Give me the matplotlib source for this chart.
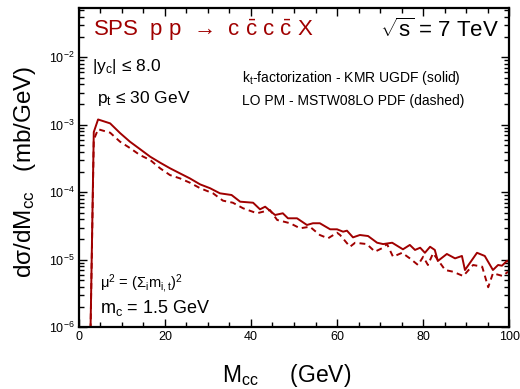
import numpy as np
import matplotlib
matplotlib.use("Agg")
import matplotlib.pyplot as plt
from matplotlib.ticker import MultipleLocator, LogLocator, NullFormatter

plt.rcParams['font.family'] = ['Liberation Sans', 'DejaVu Sans']
plt.rcParams['mathtext.fontset'] = 'custom'
plt.rcParams['mathtext.rm'] = 'Liberation Sans'
plt.rcParams['mathtext.it'] = 'Liberation Sans:italic'
plt.rcParams['mathtext.sf'] = 'Liberation Sans'

# k_t-factorization, KMR UGDF (solid)
m_kt = [2.5, 3.5, 4.5, 7.3, 9.6, 11.9, 14.2, 16.6, 18.9, 21.2, 23.5, 25.8, 28.2,
        30.5, 32.8, 35.5, 37.5, 40.5, 42.1, 43.3, 45.6, 47.4, 48.6, 50.7, 53.0,
        54.4, 56.0, 58.4, 60.0, 61.4, 62.3, 63.7, 65.3, 67.2, 69.3, 70.7, 72.8,
        75.3, 76.9, 78.1, 79.3, 80.4, 81.6, 82.7, 83.4, 85.5, 87.4, 89.0, 89.7,
        92.5, 94.3, 96.2, 97.4, 98.3, 99.5, 100.0]
xs_kt = [1e-7, 7.8e-4, 1.2e-3, 1.05e-3, 7.55e-4, 5.62e-4, 4.38e-4, 3.37e-4,
         2.75e-4, 2.27e-4, 1.91e-4, 1.61e-4, 1.31e-4, 1.15e-4, 9.66e-5, 9.12e-5,
         7.26e-5, 7.01e-5, 5.60e-5, 6.12e-5, 4.61e-5, 4.89e-5, 4.12e-5, 4.12e-5,
         3.28e-5, 3.48e-5, 3.48e-5, 2.83e-5, 2.83e-5, 2.61e-5, 2.70e-5, 2.15e-5,
         2.33e-5, 2.25e-5, 1.79e-5, 1.71e-5, 1.79e-5, 1.43e-5, 1.66e-5, 1.40e-5,
         1.51e-5, 1.27e-5, 1.56e-5, 1.40e-5, 9.6e-6, 1.22e-5, 1.05e-5, 1.14e-5,
         7.06e-6, 1.27e-5, 1.14e-5, 7.06e-6, 8.38e-6, 8.18e-6, 9.7e-6, 9.06e-6]

# LO PM, MSTW08LO PDF (dashed)
m_lo = [2.5, 3.5, 4.5, 7.3, 9.6, 11.9, 14.2, 16.6, 18.9, 21.2, 23.5, 25.8, 28.2,
        31.2, 33.5, 35.8, 38.2, 41.4, 44.4, 46.1, 49.1, 51.4, 53.7, 56.0, 57.9,
        60.0, 60.7, 63.0, 64.2, 66.9, 68.8, 70.4, 71.6, 73.0, 75.1, 76.9, 78.8,
        80.0, 81.1, 82.3, 85.1, 86.9, 89.3, 91.6, 93.7, 95.1, 96.2, 98.5, 99.7]
xs_lo = [1e-7, 6.0e-4, 8.6e-4, 7.64e-4, 5.62e-4, 4.53e-4, 3.57e-4, 3.01e-4,
         2.27e-4, 1.80e-4, 1.61e-4, 1.39e-4, 1.15e-4, 9.66e-5, 7.52e-5, 7.01e-5,
         5.79e-5, 4.89e-5, 5.47e-5, 3.89e-5, 3.48e-5, 2.93e-5, 3.09e-5, 2.33e-5,
         2.08e-5, 2.52e-5, 2.33e-5, 1.56e-5, 1.79e-5, 1.71e-5, 1.32e-5, 1.48e-5,
         1.71e-5, 1.11e-5, 1.27e-5, 1.05e-5, 8.38e-6, 1.11e-5, 8.38e-6, 1.25e-5,
         7.06e-6, 6.67e-6, 5.75e-6, 8.38e-6, 7.91e-6, 3.92e-6, 6.31e-6, 5.75e-6,
         6.67e-6]

red = '#a00000'
W, H = 520, 389

fig = plt.figure(figsize=(5.2, 3.89), dpi=100)
ax = fig.add_axes([78.7 / W, 1 - 327.3 / H, (509.3 - 78.7) / W, (327.3 - 8.3) / H])

ax.plot(m_kt, xs_kt, color=red, lw=1.4)
ax.plot(m_lo, xs_lo, color=red, lw=1.4, dashes=(3, 2.2))

ax.set_yscale('log')
ax.set_xlim(0, 100)
ax.set_ylim(1e-6, 10 ** -1.274)

ax.xaxis.set_major_locator(MultipleLocator(20))
ax.xaxis.set_minor_locator(MultipleLocator(5))
ax.yaxis.set_major_locator(LogLocator(base=10, numticks=10))
ax.yaxis.set_minor_locator(LogLocator(base=10, subs=np.arange(2, 10), numticks=20))
ax.yaxis.set_minor_formatter(NullFormatter())

ax.tick_params(which='both', direction='in', top=True, right=True, width=1.0,
               labelsize=9, pad=3)
ax.tick_params(which='major', length=6)
ax.tick_params(which='minor', length=3.3)
for s in ax.spines.values():
    s.set_linewidth(1.6)

# text
def px(x, y):
    return x / W, 1 - y / H

fig.text(*px(93, 36), r'SPS  p p  →  c $\bar{\mathrm{c}}$ c $\bar{\mathrm{c}}$ X',
         color=red, fontsize=16, va='baseline')
fig.text(*px(499, 37), r'$\sqrt{\mathrm{s}}$ = 7 TeV', fontsize=16, va='baseline', ha='right')
fig.text(*px(92, 71), r'|y$_\mathrm{c}$| ≤ 8.0', fontsize=12.5, va='baseline')
fig.text(*px(97, 103), r'p$_\mathrm{t}$ ≤ 30 GeV', fontsize=12.5, va='baseline')
fig.text(*px(242, 82), r'k$_\mathrm{t}$-factorization - KMR UGDF (solid)',
         fontsize=10, va='baseline')
fig.text(*px(242, 105), 'LO PM - MSTW08LO PDF (dashed)', fontsize=10, va='baseline')
fig.text(*px(100, 288), r'μ$^2$ = ($\Sigma_\mathrm{i}$m$_\mathrm{i,t}$)$^2$',
         fontsize=10.5, va='baseline')
fig.text(*px(100, 313), r'm$_\mathrm{c}$ = 1.5 GeV', fontsize=13, va='baseline')

fig.text(*px(25, 171.5), r'dσ/dM$_\mathrm{cc}$   (mb/GeV)', fontsize=17.5,
         rotation=90, ha='center', va='center')
fig.text(*px(287, 382), r'M$_\mathrm{cc}$     (GeV)', fontsize=16.5,
         ha='center', va='baseline')

fig.savefig('out.png', dpi=100, facecolor='white')
